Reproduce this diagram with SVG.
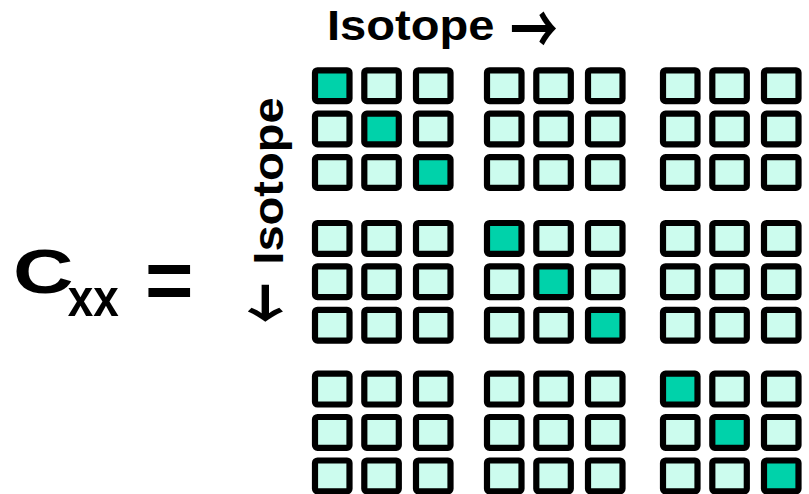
<svg xmlns="http://www.w3.org/2000/svg" xmlns:xlink="http://www.w3.org/1999/xlink" width="809" height="494" viewBox="0 0 809 494">
<style>
text{font-family:"Liberation Sans",Arial,Helvetica,sans-serif;font-weight:bold;fill:#000}
.ar{font-family:"Noto Sans CJK JP","Noto Sans CJK SC",sans-serif;font-weight:bold;font-size:50px}
.c{fill:#ccfcee;stroke:#000;stroke-width:6.2}
.d{fill:#00d2aa}
</style>
<defs>
<rect id="cl" class="c" x="0" y="0" width="34.5" height="30.8" rx="2.5"/>
<rect id="cd" class="c d" x="0" y="0" width="34.5" height="30.8" rx="2.5"/>
<g id="blk">
<use xlink:href="#cl" x="0" y="0"/><use xlink:href="#cl" x="49.3" y="0"/><use xlink:href="#cl" x="101" y="0"/>
<use xlink:href="#cl" x="0" y="43.3"/><use xlink:href="#cl" x="49.3" y="43.3"/><use xlink:href="#cl" x="101" y="43.3"/>
<use xlink:href="#cl" x="0" y="86.8"/><use xlink:href="#cl" x="49.3" y="86.8"/><use xlink:href="#cl" x="101" y="86.8"/>
</g>
<g id="dblk">
<use xlink:href="#cd" x="0" y="0"/><use xlink:href="#cl" x="49.3" y="0"/><use xlink:href="#cl" x="101" y="0"/>
<use xlink:href="#cl" x="0" y="43.3"/><use xlink:href="#cd" x="49.3" y="43.3"/><use xlink:href="#cl" x="101" y="43.3"/>
<use xlink:href="#cl" x="0" y="86.8"/><use xlink:href="#cl" x="49.3" y="86.8"/><use xlink:href="#cd" x="101" y="86.8"/>
</g>
</defs>
<g id="label-cxx">
<text transform="translate(13.1,292.8) scale(1.34,1)" x="0" y="0" font-size="62.5">C</text>
<text x="67.8" y="316" font-size="53" textLength="51" lengthAdjust="spacingAndGlyphs">xx</text>
<text x="145" y="309" font-size="83">=</text>
</g>
<g id="label-top">
<text x="327" y="40" font-size="43" textLength="167.4" lengthAdjust="spacingAndGlyphs">Isotope</text>
<text class="ar" transform="translate(510,55.3) scale(0.955,1.4)" x="0" y="0">→</text>
</g>
<g id="label-left">
<text transform="translate(283.3,0) rotate(-90)" x="-264.7" y="0" font-size="43" textLength="167.4" lengthAdjust="spacingAndGlyphs">Isotope</text>
<text class="ar" transform="translate(292.7,323.3) rotate(-90) scale(0.8,1.45)" x="0" y="0">←</text>
</g>
<g id="matrix">
<g id="block-1-1" transform="translate(315,70.3)"><use xlink:href="#dblk"/></g>
<g id="block-1-2" transform="translate(487,70.3)"><use xlink:href="#blk"/></g>
<g id="block-1-3" transform="translate(663,70.3)"><use xlink:href="#blk"/></g>
<g id="block-2-1" transform="translate(315,223)"><use xlink:href="#blk"/></g>
<g id="block-2-2" transform="translate(487,223)"><use xlink:href="#dblk"/></g>
<g id="block-2-3" transform="translate(663,223)"><use xlink:href="#blk"/></g>
<g id="block-3-1" transform="translate(315,373.7)"><use xlink:href="#blk"/></g>
<g id="block-3-2" transform="translate(487,373.7)"><use xlink:href="#blk"/></g>
<g id="block-3-3" transform="translate(663,373.7)"><use xlink:href="#dblk"/></g>
</g>
</svg>
